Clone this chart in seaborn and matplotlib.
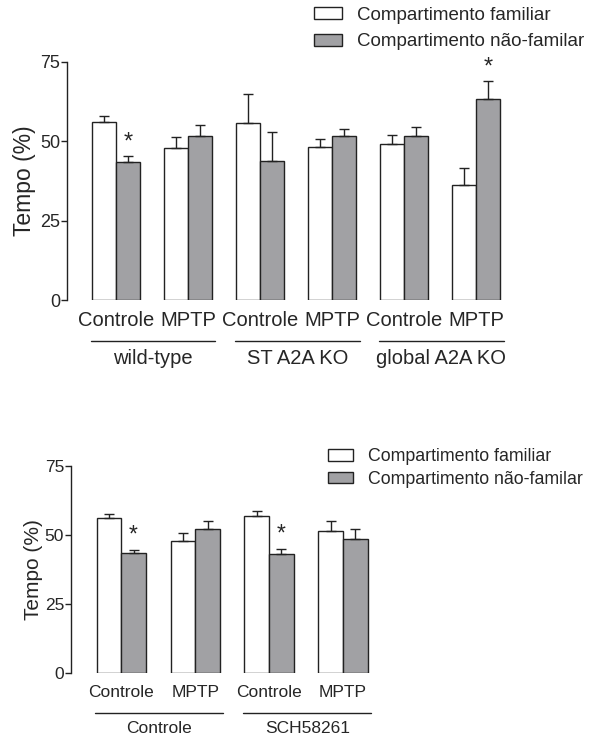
import numpy as np
import pandas as pd
import matplotlib
matplotlib.use("Agg")
import matplotlib.pyplot as plt
import matplotlib.transforms as mtransforms
import seaborn as sns

# --- dados do painel superior ---
top_conditions = ["Controle", "MPTP", "Controle", "MPTP", "Controle", "MPTP"]
top_groups = ["wild-type", "ST A2A KO", "global A2A KO"]
top_familiar = [56.1, 47.9, 55.9, 48.2, 49.1, 36.2]
top_familiar_sem = [2.0, 3.4, 8.9, 2.4, 2.8, 5.3]
top_novel = [43.5, 51.8, 43.8, 51.6, 51.6, 63.4]
top_novel_sem = [2.0, 3.2, 9.0, 2.4, 2.9, 5.5]
top_signif = [0, 5]  # indices com * (barra não-familiar)

# --- dados do painel inferior ---
bot_conditions = ["Controle", "MPTP", "Controle", "MPTP"]
bot_groups = ["Controle", "SCH58261"]
bot_familiar = [56.3, 47.9, 57.1, 51.4]
bot_familiar_sem = [1.4, 3.0, 1.7, 3.6]
bot_novel = [43.6, 52.1, 43.3, 48.5]
bot_novel_sem = [1.1, 3.0, 1.8, 3.7]
bot_signif = [0, 2]

hue_labels = ["Compartimento familiar", "Compartimento não-familar"]
colors = ["#ffffff", "#a0a0a5"]

sns.set_style("ticks")
plt.rcParams["font.family"] = ["Liberation Sans", "DejaVu Sans"]


def make_df(conds, fam, fam_sem, nov, nov_sem):
    slots = [f"{i}" for i in range(len(conds))]
    df = pd.DataFrame({
        "slot": slots * 2,
        "compart": [hue_labels[0]] * len(conds) + [hue_labels[1]] * len(conds),
        "tempo": fam + nov,
        "sem": fam_sem + nov_sem,
    })
    return df


def draw_panel(ax, conds, groups, fam, fam_sem, nov, nov_sem, signif,
               fs_tick, fs_ylab, fs_xlab, fs_group, line_y, group_y, pad,
               ast_off, ylab_pad):
    df = make_df(conds, fam, fam_sem, nov, nov_sem)
    sns.barplot(data=df, x="slot", y="tempo", hue="compart", palette=colors,
                width=2 / 3, edgecolor="#222222", linewidth=1.0, errorbar=None,
                ax=ax, legend=True)
    n = len(conds)
    # barras de erro (só para cima) a partir das barras desenhadas
    bars = ax.patches[:2 * n]
    for i, p in enumerate(bars):
        xc = p.get_x() + p.get_width() / 2
        h = p.get_height()
        err = df["sem"].iloc[i]
        ax.errorbar(xc, h, yerr=[[0], [err]], fmt="none", ecolor="#222222",
                    elinewidth=1.0, capsize=3.5, capthick=1.0)
    # asteriscos
    for k in signif:
        p = bars[n + k]
        xc = p.get_x() + p.get_width() / 2
        top = df["tempo"].iloc[n + k] + df["sem"].iloc[n + k]
        ax.text(xc, top + ast_off, "*", ha="center", va="center",
                fontsize=fs_tick + 4, clip_on=False)

    ax.set_ylim(0, 75)
    ax.set_yticks([0, 25, 50, 75])
    ax.set_xlim(-0.68, n - 0.5)
    ax.set_xticks(range(n))
    ax.set_xticklabels(conds, fontsize=fs_xlab)
    ax.tick_params(axis="x", length=0, pad=pad)
    ax.tick_params(axis="y", length=4, width=1.0, pad=1, labelsize=fs_tick,
                   direction="out", color="#222222")
    ax.set_xlabel("")
    ax.set_ylabel("Tempo (%)", fontsize=fs_ylab, labelpad=ylab_pad)
    sns.despine(ax=ax, bottom=True)
    ax.spines["left"].set_linewidth(1.0)
    ax.spines["left"].set_color("#222222")

    # linhas e nomes dos grupos
    trans = mtransforms.blended_transform_factory(ax.transData, ax.transAxes)
    for g, name in enumerate(groups):
        x0 = 2 * g - 0.35
        x1 = 2 * g + 1.38
        ax.plot([x0, x1], [line_y, line_y], color="#222222", lw=1.0,
                transform=trans, clip_on=False)
        ax.text((x0 + x1) / 2, group_y, name, ha="center", va="center",
                fontsize=fs_group, transform=trans)
    ax.get_legend().remove()
    return ax


fig = plt.figure(figsize=(5.95, 7.37), dpi=100)

ax1 = fig.add_axes([0.1126, 0.5929, 0.861 - 0.1126, 0.9159 - 0.5929])
draw_panel(ax1, top_conditions, top_groups, top_familiar, top_familiar_sem,
           top_novel, top_novel_sem, top_signif,
           fs_tick=13, fs_ylab=16.5, fs_xlab=14.5, fs_group=14.5,
           line_y=-0.172, group_y=-0.244, pad=8, ast_off=4.2, ylab_pad=3)
h, l = ax1.get_legend_handles_labels()
fig.legend(h[:2], l[:2], loc="center left", bbox_to_anchor=(0.527, 0.961),
           frameon=False, fontsize=13.5, handlelength=1.5, handleheight=0.6,
           handletextpad=0.8, labelspacing=0.5, borderpad=0, borderaxespad=0)

ax2 = fig.add_axes([0.1193, 0.0872, 0.6387 - 0.1193, 0.3673 - 0.0872])
draw_panel(ax2, bot_conditions, bot_groups, bot_familiar, bot_familiar_sem,
           bot_novel, bot_novel_sem, bot_signif,
           fs_tick=12.5, fs_ylab=15, fs_xlab=12.5, fs_group=12.5,
           line_y=-0.196, group_y=-0.27, pad=9, ast_off=5.2, ylab_pad=1)
h, l = ax2.get_legend_handles_labels()
fig.legend(h[:2], l[:2], loc="center left", bbox_to_anchor=(0.552, 0.365),
           frameon=False, fontsize=12.8, handlelength=1.4, handleheight=0.6,
           handletextpad=0.8, labelspacing=0.3, borderpad=0, borderaxespad=0)

fig.savefig("out.png", dpi=100)
